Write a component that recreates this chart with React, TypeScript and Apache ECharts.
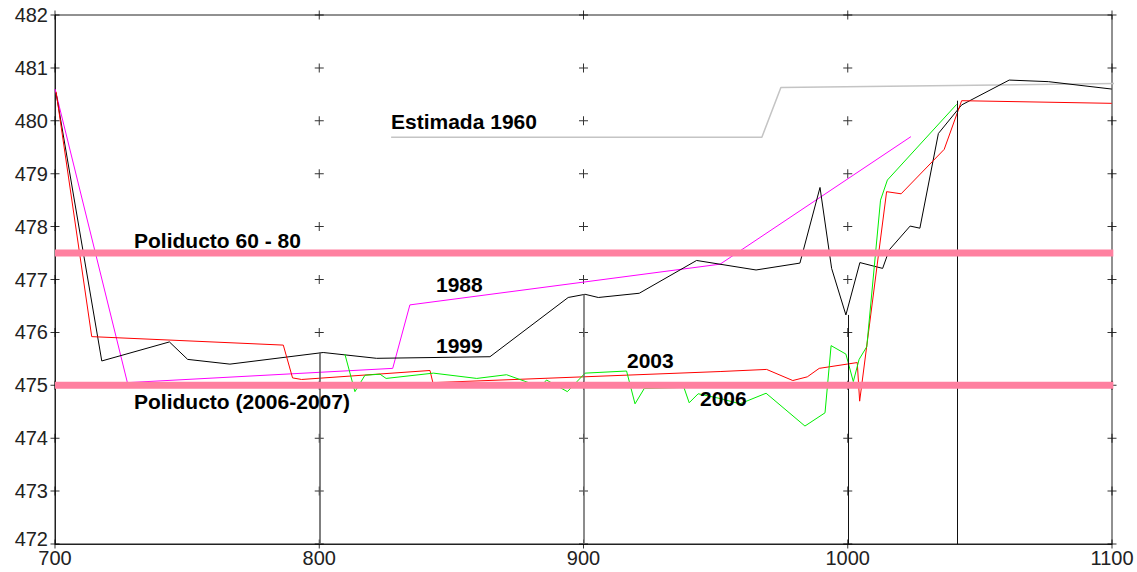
import React, { useEffect, useRef } from "react";
import * as echarts from "echarts";

// Axis ranges and tick values
const xTicks = [700, 800, 900, 1000, 1100];
const yTicks = [472, 473, 474, 475, 476, 477, 478, 479, 480, 481, 482];

// Longitudinal profiles [chainage, elevation]
const estimada1960: [number, number][] = [
  [827.2, 479.69], [967.5, 479.69], [974.7, 480.63], [1109.5, 480.71],
];

const perfil1988: [number, number][] = [
  [700, 480.6], [727.4, 475.05], [827.8, 475.32], [834.3, 476.52],
  [951.7, 477.29], [1023.9, 479.7],
];

const perfil1999: [number, number][] = [
  [700.4, 480.53], [717.7, 475.46], [743.3, 475.82], [750.2, 475.49],
  [766.2, 475.4], [801.5, 475.62], [821.7, 475.51], [864.6, 475.54],
  [894.2, 476.66], [900.6, 476.72], [905.6, 476.66], [921.1, 476.74],
  [942.8, 477.36], [965.3, 477.18], [981.9, 477.31], [989.5, 478.74],
  [993.9, 477.21], [999.3, 476.33], [1004.6, 477.32], [1013.2, 477.21],
  [1015.7, 477.56], [1023.6, 478.01], [1027.3, 477.97], [1034.3, 479.76],
  [1043.1, 480.3], [1061.1, 480.77], [1075.9, 480.74], [1099.9, 480.6],
];

const perfil2003: [number, number][] = [
  [700.4, 480.55], [713.9, 475.92], [786.4, 475.76], [789.9, 475.14],
  [793.3, 475.11], [841.9, 475.28], [843, 475.05], [951.7, 475.26],
  [969.3, 475.3], [979.2, 475.09], [984.7, 475.16], [989.2, 475.32],
  [1003.6, 475.43], [1004.5, 474.7], [1014.7, 478.66], [1020.2, 478.62],
  [1036.5, 479.46], [1043.1, 480.38], [1099.9, 480.33],
];

const perfil2006: [number, number][] = [
  [809.7, 475.59], [813.5, 474.88], [817.3, 475.19], [823, 475.21],
  [825.3, 475.13], [843.2, 475.23], [859.6, 475.13], [870.9, 475.2],
  [883.7, 474.97], [886, 475.1], [893.9, 474.88], [900.6, 475.23],
  [916.3, 475.27], [919.5, 474.65], [923, 474.94], [938, 474.96],
  [940, 474.67], [943.4, 474.84], [951.7, 474.75], [959.2, 474.65],
  [969.1, 474.85], [983.8, 474.23], [991.4, 474.48], [993.7, 475.75],
  [999.3, 475.59], [1002.1, 475.07], [1004.3, 475.49], [1007.2, 475.73],
  [1012.4, 478.5], [1015, 478.88], [1041.2, 480.31],
];

// Pipeline elevations
const poliducto6080 = 477.5;
const poliducto2006 = 475;

// Vertical reference drops
const dropX = [800, 900, 1000, 1041.3];
const dropTop = [475.62, 476.72, 476.33, 480.38];
const dropColor = ["#555", "#666", "#111", "#111"];

const PLUS = "path://M4,0h1v4h4v1h-4v4h-1v-4h-4v-1h4z";
const LABEL_FONT = "'Liberation Sans', Arial, sans-serif";

export default function App() {
  const ref = useRef<HTMLDivElement>(null);

  useEffect(() => {
    if (!ref.current) return;
    const chart = echarts.init(ref.current, null, { renderer: "svg" });

    const plusPoints: [number, number][] = [];
    xTicks.forEach((x) => yTicks.forEach((y) => plusPoints.push([x, y])));

    const pipe = (y: number) => ({
      type: "line",
      data: [[700, y], [1100.5, y]],
      symbol: "none",
      lineStyle: { color: "#ff80a0", width: 7 },
      z: 5,
      silent: true,
    });

    const line = (data: [number, number][], color: string, width = 1) => ({
      type: "line",
      data,
      symbol: "none",
      lineStyle: { color, width },
      z: 3,
    });

    const txt = (text: string, x: number, y: number) => ({
      type: "text",
      x,
      y,
      z: 100,
      style: {
        text,
        fill: "#000",
        fontSize: 21,
        fontWeight: "bold",
        fontFamily: LABEL_FONT,
        verticalAlign: "middle",
        align: "left",
      },
    });

    chart.setOption({
      animation: false,
      backgroundColor: "#fff",
      grid: {
        left: 55,
        right: 25,
        top: 15,
        bottom: 28,
        containLabel: false,
        outerBoundsMode: "none",
        show: true,
        borderColor: "#222",
        borderWidth: 1,
      },
      xAxis: {
        type: "value",
        min: 700,
        max: 1100,
        interval: 100,
        axisLine: { show: true, lineStyle: { color: "#222" } },
        axisTick: { show: false },
        splitLine: { show: false },
        axisLabel: {
          color: "#222",
          fontSize: 20,
          fontFamily: LABEL_FONT,
          margin: 4,
          formatter: (v: number) => String(v),
        },
      },
      yAxis: {
        type: "value",
        min: 472,
        max: 482,
        interval: 1,
        axisLine: { show: true, lineStyle: { color: "#222" } },
        axisTick: { show: false },
        splitLine: { show: false },
        axisLabel: {
          color: "#222",
          fontSize: 20,
          fontFamily: LABEL_FONT,
          margin: 7,
          formatter: (v: number) => (v === 472 ? "{low|472}" : String(v)),
          rich: {
            low: {
              fontSize: 20,
              fontFamily: LABEL_FONT,
              color: "#222",
              padding: [0, 0, 10, 0],
            },
          },
        },
      },
      series: [
        {
          type: "scatter",
          data: plusPoints,
          symbol: PLUS,
          symbolSize: 9,
          itemStyle: { color: "#000" },
          z: 2,
          silent: true,
        },
        {
          type: "line",
          data: estimada1960,
          symbol: "none",
          clip: false,
          lineStyle: { color: "#c4c4c4", width: 1.5 },
          z: 3,
        },
        line(perfil1988, "#ff00ff"),
        {
          ...line(perfil1999, "#000"),
          markLine: {
            silent: true,
            symbol: "none",
            label: { show: false },
            data: dropX.map((x, i) => [
              { coord: [x, dropTop[i]], lineStyle: { color: dropColor[i], width: i < 2 ? 1.5 : 1, type: "solid" } },
              { coord: [x, 472] },
            ]),
          },
        },
        line(perfil2003, "#ff0000"),
        line(perfil2006, "#00ee00"),
        pipe(poliducto6080),
        pipe(poliducto2006),
      ],
      graphic: [
        txt("Estimada 1960", 391, 121),
        txt("Poliducto 60 - 80", 134, 240),
        txt("1988", 436, 284),
        txt("1999", 436, 345),
        txt("2003", 627, 360),
        txt("Poliducto (2006-2007)", 134, 401),
        txt("2006", 700, 398),
      ],
    });

    return () => chart.dispose();
  }, []);

  return (
    <div
      ref={ref}
      style={{ position: "fixed", left: 0, top: 0, width: 1137, height: 572 }}
    />
  );
}
